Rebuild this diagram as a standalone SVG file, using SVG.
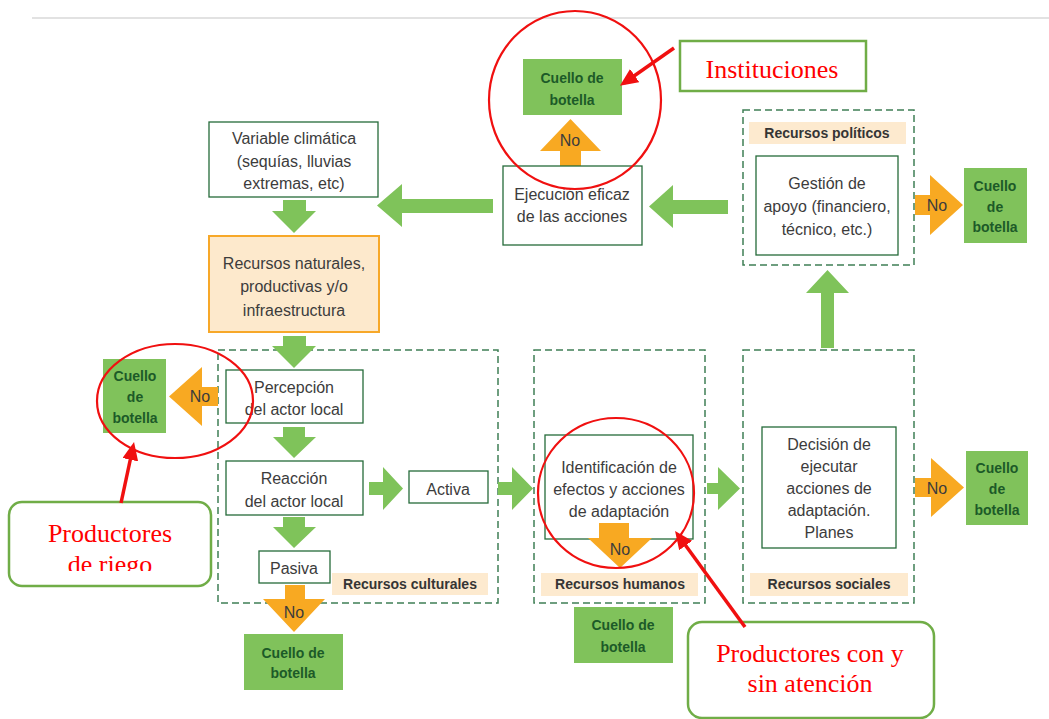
<svg xmlns="http://www.w3.org/2000/svg" width="1049" height="719" viewBox="0 0 1049 719">
<style>
.box{fill:#fff;stroke:#256b3a;stroke-width:1.3}
.nat{fill:#fde9cc;stroke:#f7a829;stroke-width:2}
.grp{fill:none;stroke:#3f7f55;stroke-width:1.5;stroke-dasharray:7 4}
.lbl{fill:#fdeacf}
.cb{fill:#80c25b}
.t{font-family:"Liberation Sans",Arial,sans-serif;font-size:16px;fill:#3c3c3c;text-anchor:middle}
.tb{font-family:"Liberation Sans",Arial,sans-serif;font-size:14px;font-weight:bold;fill:#1c5a28;text-anchor:middle}
.tl{font-family:"Liberation Sans",Arial,sans-serif;font-size:14px;font-weight:bold;fill:#353535;text-anchor:middle}
.ga{fill:#7fc35a}
.oa{fill:#f8a922}
.red{fill:none;stroke:#f01010;stroke-width:2.2}
.call{fill:#fff;stroke:#70ad47;stroke-width:2.5}
.tr{font-family:"Liberation Serif","Times New Roman",serif;font-size:26px;fill:#ff0000;text-anchor:middle}
.ra{stroke:#f01010;stroke-width:3.5;fill:none}
</style>
<defs>
<marker id="rh" markerUnits="userSpaceOnUse" markerWidth="18" markerHeight="16" refX="13" refY="8" orient="auto">
<path d="M0,0 L18,8 L0,16 z" fill="#f01010"/>
</marker>
<clipPath id="clipL"><rect x="0" y="490" width="230" height="81"/></clipPath>
</defs>
<rect x="0" y="0" width="1049" height="719" fill="#fff"/>
<line x1="32" y1="18" x2="1049" y2="18" stroke="#d9d9d9" stroke-width="1.5"/>

<!-- groups (dashed containers) -->
<g id="grp-culturales">
<rect class="grp" x="218" y="350" width="280" height="253"/>
<rect class="lbl" x="332" y="573" width="156" height="22"/>
<text class="tl" x="410" y="589">Recursos culturales</text>
</g>
<g id="grp-humanos">
<rect class="grp" x="534" y="350" width="171" height="253"/>
<rect class="lbl" x="541" y="573" width="157" height="23"/>
<text class="tl" x="620" y="589">Recursos humanos</text>
</g>
<g id="grp-sociales">
<rect class="grp" x="743" y="350" width="171" height="253"/>
<rect class="lbl" x="750" y="573" width="158" height="23"/>
<text class="tl" x="829" y="589">Recursos sociales</text>
</g>
<g id="grp-politicos">
<rect class="grp" x="743" y="110" width="171" height="155"/>
<rect class="lbl" x="749" y="122" width="157" height="22"/>
<text class="tl" x="827" y="138">Recursos políticos</text>
</g>

<!-- connectors -->
<g id="connectors">
<polygon class="ga" points="283,200 306,200 306,211 316,211 294,233 272,211 283,211"/>
<polygon class="ga" points="283,336 306,336 306,346 316,346 294,368 272,346 283,346"/>
<polygon class="ga" points="283,427 305,427 305,437 316,437 294,458 273,437 283,437"/>
<polygon class="ga" points="283,517 305,517 305,527 316,527 294,548 273,527 283,527"/>
<polygon class="ga" points="493,199 402,199 402,184 377,205.5 402,227 402,213 493,213"/>
<polygon class="ga" points="728,200 673,200 673,185 649,206.5 673,228 673,214 728,214"/>
<polygon class="ga" points="821,348 821,293 806,293 827.5,270 849,293 834,293 834,348"/>
<polygon class="ga" points="369,482 383,482 383,467 403,488.5 383,510 383,495 369,495"/>
<polygon class="ga" points="498,482 512,482 512,467 533,488.5 512,510 512,495 498,495"/>
<polygon class="ga" points="707,483 718,483 718,467 740,488.5 718,510 718,494 707,494"/>
<g id="no-top">
<polygon class="oa" points="560,166 560,151 540,151 570.5,119 601,151 581,151 581,166"/>
<text class="t" x="570" y="146">No</text>
</g>
<g id="no-left">
<polygon class="oa" points="218,387 202,387 202,367 169,396.5 202,426 202,406 218,406"/>
<text class="t" x="200" y="402">No</text>
</g>
<g id="no-right-top">
<polygon class="oa" points="915,195 930,195 930,175 963,205 930,235 930,215 915,215"/>
<text class="t" x="937" y="211">No</text>
</g>
<g id="no-right-bottom">
<polygon class="oa" points="915,478 931,478 931,458 964,487.5 931,517 931,497 915,497"/>
<text class="t" x="937" y="494">No</text>
</g>
<g id="no-pasiva">
<polygon class="oa" points="285,585 305,585 305,599 325,599 294,632 263,599 285,599"/>
<text class="t" x="294" y="618">No</text>
</g>
</g>

<!-- nodes -->
<g id="n-variable">
<rect class="box" x="209" y="122" width="169" height="75"/>
<text class="t" x="294" y="144">Variable climática</text>
<text class="t" x="294" y="167">(sequías, lluvias</text>
<text class="t" x="294" y="189">extremas, etc)</text>
</g>
<g id="n-recursos">
<rect class="nat" x="209" y="236" width="170" height="96"/>
<text class="t" x="294" y="269">Recursos naturales,</text>
<text class="t" x="294" y="292">productivas y/o</text>
<text class="t" x="294" y="316">infraestructura</text>
</g>
<g id="n-ejecucion">
<rect class="box" x="503" y="166" width="139" height="79"/>
<text class="t" x="572" y="200">Ejecución eficaz</text>
<text class="t" x="572" y="222">de las acciones</text>
</g>
<g id="n-gestion">
<rect class="box" x="756" y="156" width="142" height="99"/>
<text class="t" x="827" y="189">Gestión de</text>
<text class="t" x="827" y="212">apoyo (financiero,</text>
<text class="t" x="827" y="235">técnico, etc.)</text>
</g>
<g id="n-percepcion">
<rect class="box" x="226" y="370" width="137" height="53"/>
<text class="t" x="294" y="393">Percepción</text>
<text class="t" x="294" y="415">del actor local</text>
</g>
<g id="n-reaccion">
<rect class="box" x="226" y="461" width="137" height="54"/>
<text class="t" x="294" y="484">Reacción</text>
<text class="t" x="294" y="507">del actor local</text>
</g>
<g id="n-activa">
<rect class="box" x="409" y="471" width="79" height="32"/>
<text class="t" x="448" y="495">Activa</text>
</g>
<g id="n-pasiva">
<rect class="box" x="259" y="551" width="71" height="32"/>
<text class="t" x="294" y="574">Pasiva</text>
</g>
<g id="n-identificacion">
<rect class="box" x="545" y="435" width="148" height="104"/>
<text class="t" x="619" y="473">Identificación de</text>
<text class="t" x="619" y="495">efectos y acciones</text>
<text class="t" x="619" y="517">de adaptación</text>
</g>
<g id="n-decision">
<rect class="box" x="762" y="427" width="134" height="121"/>
<text class="t" x="829" y="450">Decisión de</text>
<text class="t" x="829" y="472">ejecutar</text>
<text class="t" x="829" y="494">acciones de</text>
<text class="t" x="829" y="516">adaptación.</text>
<text class="t" x="829" y="538">Planes</text>
</g>
<!-- identificación orange No arrow drawn over box -->
<g id="no-identificacion">
<polygon class="oa" points="599,523 629,523 629,538 652,538 620,568 588,538 599,538"/>
<text class="t" x="620" y="555">No</text>
</g>

<g id="cb-top">
<rect class="cb" x="523" y="59" width="99" height="56"/>
<text class="tb" x="572" y="83">Cuello de</text>
<text class="tb" x="572" y="105">botella</text>
</g>
<g id="cb-right-top">
<rect class="cb" x="964" y="168" width="63" height="75"/>
<text class="tb" x="995" y="191">Cuello</text>
<text class="tb" x="995" y="212">de</text>
<text class="tb" x="995" y="232">botella</text>
</g>
<g id="cb-right-bottom">
<rect class="cb" x="966" y="451" width="62" height="74"/>
<text class="tb" x="997" y="473">Cuello</text>
<text class="tb" x="997" y="494">de</text>
<text class="tb" x="997" y="515">botella</text>
</g>
<g id="cb-left">
<rect class="cb" x="103" y="359" width="63" height="74"/>
<text class="tb" x="135" y="381">Cuello</text>
<text class="tb" x="135" y="402">de</text>
<text class="tb" x="135" y="423">botella</text>
</g>
<g id="cb-humanos">
<rect class="cb" x="574" y="607" width="99" height="56"/>
<text class="tb" x="623" y="630">Cuello de</text>
<text class="tb" x="623" y="652">botella</text>
</g>
<g id="cb-pasiva">
<rect class="cb" x="244" y="634" width="99" height="56"/>
<text class="tb" x="293" y="658">Cuello de</text>
<text class="tb" x="293" y="678">botella</text>
</g>

<!-- annotations -->
<g id="ann-instituciones">
<ellipse class="red" cx="575" cy="100" rx="86" ry="89"/>
<rect class="call" x="680" y="41" width="186" height="50"/>
<text class="tr" x="772" y="78">Instituciones</text>
<line class="ra" x1="674" y1="48" x2="624" y2="83" stroke-width="3" marker-end="url(#rh)"/>
</g>
<g id="ann-riego">
<ellipse class="red" cx="175" cy="401" rx="78" ry="57"/>
<rect class="call" x="9" y="502" width="202" height="84" rx="13"/>
<g clip-path="url(#clipL)">
<text class="tr" x="110" y="542">Productores</text>
<text class="tr" x="110" y="573">de riego</text>
</g>
<line class="ra" x1="121" y1="503" x2="133" y2="447" marker-end="url(#rh)"/>
</g>
<g id="ann-atencion">
<ellipse class="red" cx="616" cy="493" rx="78" ry="75"/>
<rect class="call" x="688" y="622" width="246" height="96" rx="14"/>
<text class="tr" x="810" y="662">Productores con y</text>
<text class="tr" x="810" y="692">sin atención</text>
<line class="ra" x1="745" y1="627" x2="678" y2="535" stroke-width="3" marker-end="url(#rh)"/>
</g>
</svg>
